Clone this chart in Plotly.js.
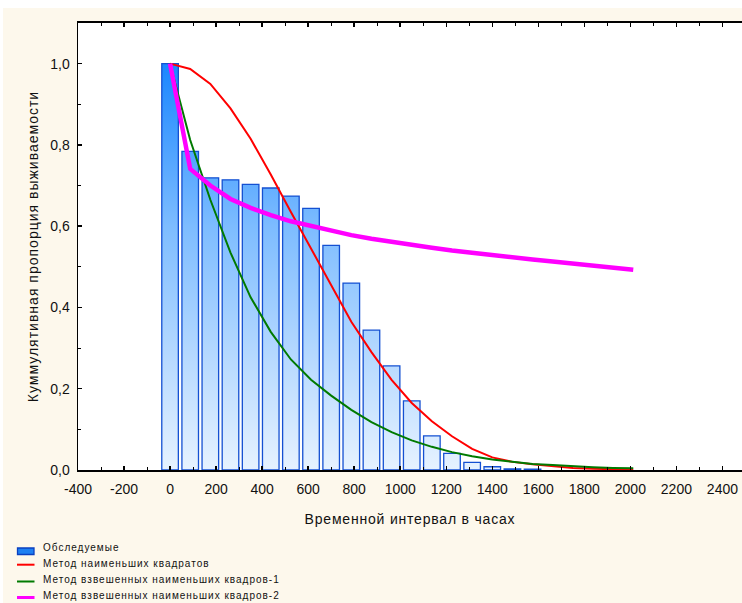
<!DOCTYPE html>
<html><head><meta charset="utf-8">
<script src="https://cdn.plot.ly/plotly-3.0.1.min.js"></script>
<style>
html,body{margin:0;padding:0;background:#fff;}
#chart{width:742px;height:603px;}
text.xtitle{letter-spacing:0.8px;}
text.ytitle{letter-spacing:1px;}
.annotation-text{letter-spacing:1px;}
</style></head><body><div id="chart"></div>
<script>
// ---- data ----
const barX = [0, 87.5, 175, 262.5, 350, 437.5, 525, 612.5, 700, 787.5, 875, 962.5, 1050, 1137.5, 1225, 1312.5, 1400, 1487.5, 1575];
const barY = [1.0, 0.784, 0.719, 0.714, 0.703, 0.694, 0.674, 0.644, 0.553, 0.460, 0.344, 0.256, 0.170, 0.084, 0.041, 0.019, 0.008, 0.003, 0.002];
const curveX = [0, 87.5, 175, 262.5, 350, 437.5, 525, 612.5, 700, 787.5, 875, 962.5, 1050, 1137.5, 1225, 1312.5, 1400, 1487.5, 1575, 1662.5, 1750, 1837.5, 1925, 2012.5];
const lsq   = [1.0, 0.987, 0.950, 0.890, 0.815, 0.727, 0.635, 0.545, 0.455, 0.365, 0.290, 0.222, 0.165, 0.120, 0.083, 0.052, 0.031, 0.020, 0.014, 0.009, 0.005, 0.003, 0.002, 0.001];
const wlsq1 = [1.0, 0.812, 0.665, 0.535, 0.425, 0.340, 0.272, 0.222, 0.183, 0.148, 0.118, 0.093, 0.073, 0.057, 0.044, 0.034, 0.026, 0.020, 0.015, 0.012, 0.009, 0.007, 0.005, 0.004];
const wlsq2 = [1.0, 0.741, 0.700, 0.667, 0.645, 0.627, 0.612, 0.600, 0.589, 0.578, 0.569, 0.561, 0.554, 0.547, 0.540, 0.534, 0.528, 0.523, 0.518, 0.513, 0.508, 0.503, 0.498, 0.493];
const seriesNames = ['Обследуемые', 'Метод наименьших квадратов', 'Метод взвешенных наименьших квадров-1', 'Метод взвешенных наименьших квадров-2'];
const xTickVals = [-400, -200, 0, 200, 400, 600, 800, 1000, 1200, 1400, 1600, 1800, 2000, 2200, 2400];
const xTickLabels = ['-400', '-200', '0', '200', '400', '600', '800', '1000', '1200', '1400', '1600', '1800', '2000', '2200', '2400'];
const xTitle = 'Временной интервал в часах';
const yTitle = 'Куммулятивная пропорция выживаемости';

// ---- styles ----
const FONT = 'Liberation Sans, Arial, sans-serif';
const CREAM = '#FDF8EC';
const BAR_W = 72;
const colors = {bar: '#1450D2', lsq: '#FF0000', w1: '#007A00', w2: '#FF00FF'};

// bars as filled rectangles (data coordinates) so a vertical gradient can be used
const bx = [], by = [];
barX.forEach((x, i) => {
  bx.push(x - BAR_W / 2, x - BAR_W / 2, x + BAR_W / 2, x + BAR_W / 2, x - BAR_W / 2, null);
  by.push(0, barY[i], barY[i], 0, 0, null);
});

const traces = [
  {type: 'scatter', mode: 'lines', x: bx, y: by, name: seriesNames[0], showlegend: false,
   fill: 'toself', connectgaps: false,
   fillgradient: {type: 'vertical', start: 0, stop: 1.0,
     colorscale: [[0, '#E6F2FF'], [0.3, '#B2D7FF'], [0.6, '#7DBCFF'], [1, '#1A86FF']]},
   line: {color: colors.bar, width: 1.3}, hoverinfo: 'skip'},
  {type: 'scatter', mode: 'lines', x: curveX, y: lsq, name: seriesNames[1], showlegend: false,
   line: {color: colors.lsq, width: 2}},
  {type: 'scatter', mode: 'lines', x: curveX, y: wlsq1, name: seriesNames[2], showlegend: false,
   line: {color: colors.w1, width: 2}},
  {type: 'scatter', mode: 'lines', x: curveX, y: wlsq2, name: seriesNames[3], showlegend: false,
   line: {color: colors.w2, width: 4.5}}
];

// pixel helpers for the custom legend (plot area: x 78..742, y 23..470)
const PL = 78, PR = 742, PT = 23, PB = 470;
const fx = p => (p - PL) / (PR - PL);
const fy = p => (PB - p) / (PB - PT);

const legendRows = [547, 563, 579.5, 595.3];
const annotations = seriesNames.map((t, i) => ({
  xref: 'paper', yref: 'paper', x: fx(41), y: fy(legendRows[i]), xanchor: 'left', yanchor: 'middle',
  text: t, showarrow: false, font: {family: FONT, size: 10, color: '#111'}
}));
const shapes = [
  {type: 'rect', xref: 'paper', yref: 'paper', x0: fx(0), x1: fx(742), y0: fy(0), y1: fy(8), fillcolor: '#FFFFFF', line: {width: 0}, layer: 'below'},
  {type: 'rect', xref: 'paper', yref: 'paper', x0: fx(0), x1: fx(3), y0: fy(0), y1: fy(603), fillcolor: '#FFFFFF', line: {width: 0}, layer: 'below'},
  {type: 'rect', xref: 'paper', yref: 'paper', x0: fx(17.5), x1: fx(34), y0: fy(554.5), y1: fy(548), fillcolor: '#1E80F2', line: {color: '#0B40C0', width: 1.3}},
  {type: 'line', xref: 'paper', yref: 'paper', x0: fx(17), x1: fx(34.5), y0: fy(564.7), y1: fy(564.7), line: {color: colors.lsq, width: 2}},
  {type: 'line', xref: 'paper', yref: 'paper', x0: fx(17), x1: fx(34.5), y0: fy(581.5), y1: fy(581.5), line: {color: colors.w1, width: 2}},
  {type: 'line', xref: 'paper', yref: 'paper', x0: fx(17), x1: fx(34.5), y0: fy(597.5), y1: fy(597.5), line: {color: colors.w2, width: 3}}
];

const layout = {
  width: 742, height: 603,
  margin: {l: 78, r: 0, t: 23, b: 133, pad: 0},
  paper_bgcolor: CREAM, plot_bgcolor: '#FFFFFF',
  separators: ', ',
  showlegend: false,
  font: {family: FONT, size: 14, color: '#111'},
  xaxis: {
    range: [-400, 2485], autorange: false,
    tickmode: 'array', tickvals: xTickVals, ticktext: xTickLabels,
    showgrid: false, zeroline: false,
    showline: true, linecolor: '#000', linewidth: 2, mirror: 'ticks',
    ticks: 'inside', ticklen: 4, tickwidth: 1.5, tickcolor: '#000',
    minor: {dtick: 100, tick0: 0, ticks: 'inside', ticklen: 3, tickwidth: 1, tickcolor: '#000'},
    tickfont: {family: FONT, size: 14, color: '#111'},
    ticklabelstandoff: 5,
    title: {text: xTitle, font: {family: FONT, size: 14, color: '#111'}, standoff: 18},
    automargin: false, fixedrange: true
  },
  yaxis: {
    range: [0, 1.1], dtick: 0.2, tick0: 0, autorange: false, tickformat: '.1f',
    showgrid: false, zeroline: false,
    showline: true, linecolor: '#000', linewidth: 1.5,
    ticks: 'inside', ticklen: 4, tickwidth: 1.5, tickcolor: '#000',
    minor: {dtick: 0.1, ticks: 'inside', ticklen: 3, tickwidth: 1, tickcolor: '#000'},
    tickfont: {family: FONT, size: 14, color: '#111'},
    ticklabelstandoff: 4,
    title: {text: yTitle, font: {family: FONT, size: 14, color: '#111'}, standoff: 8},
    automargin: false, fixedrange: true
  },
  annotations: annotations,
  shapes: shapes
};

Plotly.newPlot('chart', traces, layout, {displayModeBar: false, staticPlot: true});
</script></body></html>
